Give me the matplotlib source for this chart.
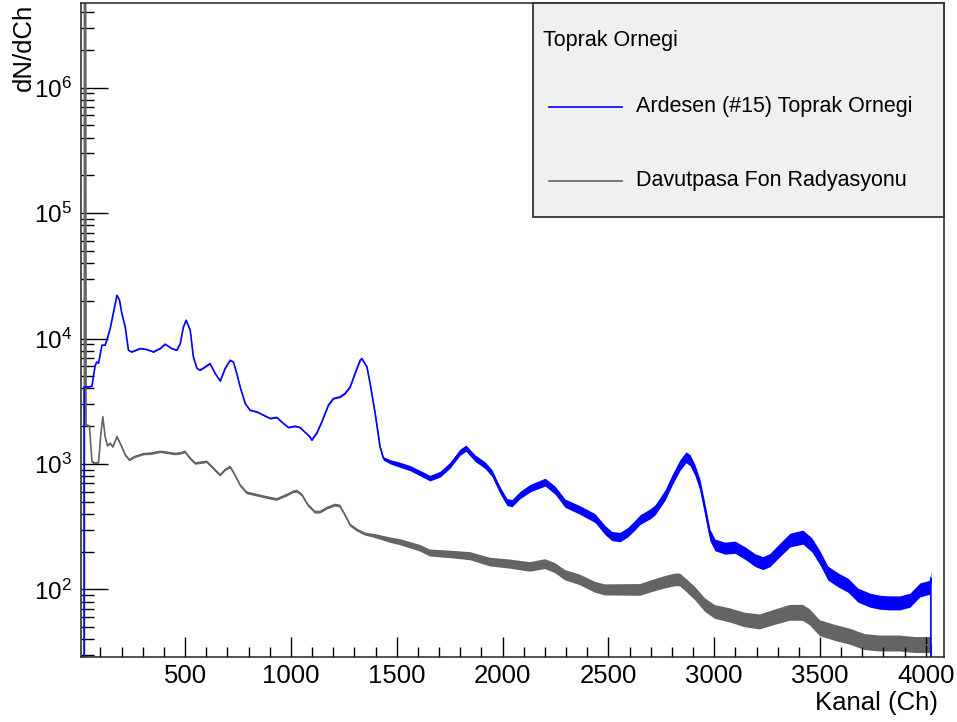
import numpy as np
import matplotlib
matplotlib.use("Agg")
import matplotlib.pyplot as plt
from matplotlib.ticker import LogLocator, MultipleLocator, NullFormatter
from matplotlib.patches import Rectangle
from matplotlib.lines import Line2D

plt.rcParams['font.family'] = ['Liberation Sans', 'DejaVu Sans']
plt.rcParams['mathtext.fontset'] = 'custom'
plt.rcParams['mathtext.rm'] = 'Liberation Sans'
plt.rcParams['mathtext.it'] = 'Liberation Sans:italic'
plt.rcParams['mathtext.bf'] = 'Liberation Sans:bold'

# spectrum values (channel, counts)
ardesen_ch = [15, 23, 23, 43, 60, 64, 75, 83, 91, 107, 122, 130, 146, 162, 178, 190,
              201, 217, 232, 248, 288, 319, 350, 382, 406, 437, 461, 477, 492, 505,
              524, 539, 556, 571, 595, 618, 642, 666, 689, 713, 728, 744, 760, 784,
              807, 839, 870, 902, 933, 965, 988, 1020, 1043, 1090, 1098, 1122, 1146,
              1177, 1201, 1232, 1256, 1280, 1303, 1327, 1335, 1359, 1374, 1398, 1421,
              1437, 1469, 1506, 1563, 1610, 1657, 1705, 1752, 1799, 1827, 1870, 1917,
              1950, 1988, 2021, 2045, 2082, 2130, 2201, 2248, 2295, 2366, 2437, 2484,
              2517, 2555, 2593, 2626, 2650, 2697, 2720, 2768, 2801, 2838, 2867, 2886,
              2909, 2933, 2957, 2980, 3004, 3051, 3098, 3145, 3193, 3230, 3263, 3310,
              3358, 3419, 3462, 3500, 3537, 3585, 3632, 3679, 3736, 3783, 3830, 3877,
              3925, 3972, 4019, 4024, 4024]
ardesen_val = [1, 1, 4115, 4115, 4170, 4650, 6120, 6510, 6360, 8850, 8850, 9690, 12020,
               16290, 22130, 20190, 15820, 12370, 8070, 7820, 8320, 8170, 7820, 8320,
               9010, 8320, 8070, 9120, 12370, 13990, 11650, 7130, 5770, 5600, 5940,
               6320, 5260, 4590, 5770, 6710, 6510, 5260, 4115, 3035, 2680, 2600, 2450,
               2305, 2348, 2100, 1953, 2000, 1953, 1643, 1549, 1760, 2165, 2941, 3325,
               3425, 3647, 4115, 5260, 6710, 6930, 5940, 4380, 2525, 1369, 1106, 1040,
               996, 926, 845, 771, 829, 978, 1240, 1335, 1112, 978, 845, 618, 496, 487,
               564, 641, 716, 618, 487, 429, 370, 297, 266, 261, 287, 326, 360, 400,
               429, 565, 743, 978, 1130, 1072, 893, 678, 429, 271, 226, 213, 217, 195,
               171, 162, 171, 206, 247, 261, 226, 178, 135, 119, 108, 90, 82, 79, 78,
               78, 82, 99, 104, 123, 1]

fon_ch = [14, 24, 24, 30, 32, 48, 60, 75, 91, 102, 111, 122, 133, 146, 159, 178, 201,
          217, 237, 264, 303, 343, 382, 414, 453, 477, 500, 524, 548, 571, 603, 634,
          666, 689, 713, 736, 760, 792, 839, 886, 933, 981, 1012, 1029, 1053, 1081,
          1114, 1138, 1171, 1209, 1232, 1256, 1280, 1313, 1351, 1398, 1469, 1516, 1610,
          1657, 1752, 1847, 1941, 2035, 2130, 2201, 2248, 2295, 2366, 2437, 2484, 2555,
          2650, 2720, 2768, 2815, 2838, 2862, 2909, 2957, 3004, 3075, 3145, 3216, 3287,
          3358, 3419, 3452, 3500, 3571, 3641, 3712, 3783, 3877, 3949, 4019, 4026, 4026]
fon_val = [1, 1, 1e7, 1e7, 2040, 2000, 1040, 1010, 1021, 1750, 2380, 1650, 1400, 1456,
           1369, 1650, 1370, 1180, 1075, 1140, 1197, 1210, 1250, 1230, 1200, 1213, 1249,
           1106, 1010, 1021, 1040, 920, 814, 893, 948, 814, 677, 589, 564, 541, 521,
           564, 600, 607, 564, 470, 413, 413, 445, 470, 461, 391, 326, 297, 276, 266,
           247, 238, 213, 195, 190, 184, 165, 159, 151, 159, 148, 130, 119, 104, 99, 99,
           99, 108, 114, 119, 119, 110, 93, 75, 66, 62, 57, 55, 60, 65, 65, 60, 49, 45,
           42, 38, 37, 37, 36, 36, 36, 1]

legend_title = 'Toprak Ornegi'
labels = ['Ardesen (#15) Toprak Ornegi', 'Davutpasa Fon Radyasyonu']

# rough half-width of the counting noise band (pixels) along the channel axis
band_ch = [0, 1350, 1500, 2000, 2700, 3400, 4100]
blue_band_px = [0.3, 0.6, 2.5, 3.5, 5, 7, 7]
gray_band_px = [1.2, 1.5, 3, 4.5, 6, 8, 8]

blue = '#0000ff'
gray = '#646464'

fig = plt.figure(figsize=(9.57, 7.22), dpi=100)
ax = fig.add_axes([81/957, 1-657/722, 863/957, 654/722])

for chs, vals, bpx, col in [(fon_ch, fon_val, gray_band_px, gray),
                            (ardesen_ch, ardesen_val, blue_band_px, blue)]:
    chs = np.array(chs, float)
    vals = np.array(vals, float)
    f = 10 ** (np.interp(chs, band_ch, bpx) / 125.5)
    ax.fill_between(chs, vals / f, vals * f, color=col, lw=0)
    ax.plot(chs, vals, color=col, lw=1.2)

ax.set_yscale('log')
ax.set_xlim(8, 4086)
ax.set_ylim(28.9, 4.73e6)

ax.xaxis.set_major_locator(MultipleLocator(500))
ax.xaxis.set_minor_locator(MultipleLocator(100))
ax.yaxis.set_major_locator(LogLocator(base=10))
ax.yaxis.set_minor_locator(LogLocator(base=10, subs=np.arange(2, 10)))
ax.yaxis.set_minor_formatter(NullFormatter())
ax.tick_params(axis='y', which='major', direction='in', length=19.5, width=1,
               labelsize=17.5, pad=6.5)
ax.tick_params(axis='y', which='minor', direction='in', length=9.5, width=1)
ax.tick_params(axis='x', which='major', direction='in', length=14.5, width=1,
               labelsize=18.5, pad=5)
ax.tick_params(axis='x', which='minor', direction='in', length=7.2, width=1)
ax.set_xticks([500, 1000, 1500, 2000, 2500, 3000, 3500, 4000])
for s in ax.spines.values():
    s.set_color('#222222')
    s.set_linewidth(1.1)

fig.text(938/957, 1-703/722, 'Kanal (Ch)', ha='right', va='center', fontsize=18.5)
fig.text(24/957, 1-4/722, 'dN/dCh', ha='center', va='top', rotation=90, fontsize=18.5)

# legend box, drawn like the ROOT TLegend
ax.add_patch(Rectangle((0.524, 0.673), 0.476, 0.327, transform=ax.transAxes,
                       facecolor='#f0f0f0', edgecolor='#333333', lw=1.3,
                       zorder=5, clip_on=False))
ax.text(0.535, 0.943, legend_title, transform=ax.transAxes, fontsize=15.5,
        va='center', ha='left', zorder=6)
for yy, col, lab in zip([0.841, 0.728], [blue, gray], labels):
    ax.add_line(Line2D([0.542, 0.627], [yy, yy], transform=ax.transAxes, color=col,
                       lw=1.2, zorder=6))
    ax.text(0.643, yy, lab, transform=ax.transAxes, fontsize=15.5, va='center',
            ha='left', zorder=6)

fig.savefig('out.png', dpi=100)
